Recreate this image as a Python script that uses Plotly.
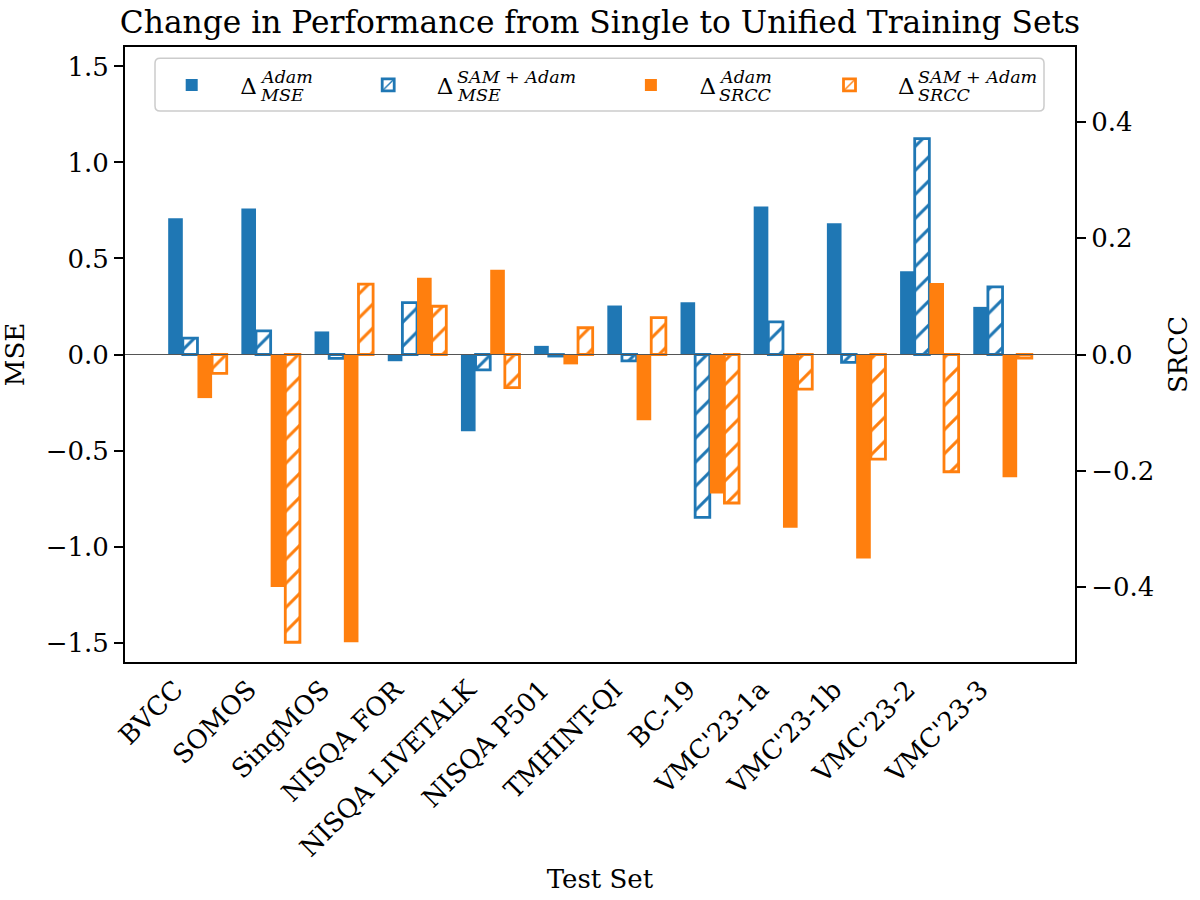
import plotly.graph_objects as go

categories = ["BVCC", "SOMOS", "SingMOS", "NISQA FOR", "NISQA LIVETALK", "NISQA P501",
              "TMHINT-QI", "BC-19", "VMC'23-1a", "VMC'23-1b", "VMC'23-2", "VMC'23-3"]
mse_adam = [0.71, 0.76, 0.12, -0.035, -0.40, 0.045, 0.255, 0.272, 0.77, 0.684, 0.434, 0.248]
mse_sam_adam = [0.085, 0.123, -0.02, 0.27, -0.08, -0.008, -0.033, -0.848, 0.17, -0.041, 1.124, 0.352]
srcc_adam = [-0.075, -0.40, -0.495, 0.132, 0.146, -0.017, -0.113, -0.239, -0.298, -0.351, 0.123, -0.211]
srcc_sam_adam = [-0.0325, -0.495, 0.121, 0.083, -0.057, 0.046, 0.0635, -0.2555, -0.0595, -0.18, -0.2017, -0.006]
mse_ticks = [-1.5, -1.0, -0.5, 0.0, 0.5, 1.0, 1.5]
srcc_ticks = [-0.4, -0.2, 0.0, 0.2, 0.4]
legend_sup = ["<i>Adam</i>", "<i>SAM</i> + <i>Adam</i>", "<i>Adam</i>", "<i>SAM</i> + <i>Adam</i>"]
legend_sub = ["<i>MSE</i>", "<i>MSE</i>", "<i>SRCC</i>", "<i>SRCC</i>"]

BLUE = "#1f77b4"
ORANGE = "#ff7f0e"
FONT = "DejaVu Serif"
W, H = 1200, 900
L, R, T, B = 125, 125, 47, 238
PW, PH = W - L - R, H - T - B

def px(xp):
    return (xp - L) / PW

def py(yp):
    return (H - B - yp) / PH

xs = list(range(len(categories)))
bw = 0.2

fig = go.Figure()
series = [
    (mse_adam, BLUE, False, "y", 0.0),
    (mse_sam_adam, BLUE, True, "y", 1.0),
    (srcc_adam, ORANGE, False, "y2", 2.0),
    (srcc_sam_adam, ORANGE, True, "y2", 3.0),
]
for k, (vals, col, hatched, yax, slot) in enumerate(series):
    if hatched:
        marker = dict(color="white", line=dict(color=col, width=2.8),
                      pattern=dict(shape="/", fgcolor=col, bgcolor="white", size=17,
                                   solidity=0.18, fillmode="replace"))
    else:
        marker = dict(color=col, line=dict(width=0))
    fig.add_trace(go.Bar(x=xs, y=vals, width=bw, offset=slot * bw - bw / 2, yaxis=yax,
                         marker=marker, name="Δ", showlegend=True,
                         legend="legend" if k == 0 else f"legend{k + 1}"))

patch_centers = [191.7, 388.2, 650.9, 849.5]
delta_x = [240, 436.7, 699.3, 898.3]
legend_cfg = {}
for k, c in enumerate(patch_centers):
    key = "legend" if k == 0 else f"legend{k + 1}"
    legend_cfg[key] = dict(x=px(c - 48.5), xanchor="left", y=py(85), yanchor="middle",
                           orientation="h", itemwidth=87, bgcolor="rgba(0,0,0,0)",
                           borderwidth=0, font=dict(family=FONT, size=23, color="black"))

annotations = []
for k, dx in enumerate(delta_x):
    annotations.append(dict(x=px(dx + 18), y=py(77), xref="paper", yref="paper",
                            text=legend_sup[k], showarrow=False, xanchor="left", yanchor="middle",
                            font=dict(family=FONT, size=17.5, color="black")))
    annotations.append(dict(x=px(dx + 18), y=py(94.7), xref="paper", yref="paper",
                            text=legend_sub[k], showarrow=False, xanchor="left", yanchor="middle",
                            font=dict(family=FONT, size=17.5, color="black")))

# rounded legend frame
x0, x1 = px(155), px(1044)
y0, y1 = py(111), py(58.3)
rx, ry = 5 / PW, 5 / PH
path = (f"M{x0 + rx},{y1} L{x1 - rx},{y1} Q{x1},{y1} {x1},{y1 - ry} L{x1},{y0 + ry} "
        f"Q{x1},{y0} {x1 - rx},{y0} L{x0 + rx},{y0} Q{x0},{y0} {x0},{y0 + ry} "
        f"L{x0},{y1 - ry} Q{x0},{y1} {x0 + rx},{y1} Z")
shapes = [
    dict(type="line", xref="paper", yref="y", x0=0, x1=1, y0=0, y1=0,
         line=dict(color="#555555", width=1), layer="above"),
    dict(type="path", xref="paper", yref="paper", path=path,
         fillcolor="rgba(255,255,255,0.8)", line=dict(color="#cccccc", width=1.5), layer="above"),
]

axis_font = dict(family=FONT, size=26, color="black")
fig.update_layout(
    width=W, height=H,
    margin=dict(l=L, r=R, t=T, b=B, autoexpand=False),
    paper_bgcolor="white", plot_bgcolor="white",
    barmode="overlay",
    showlegend=True,
    font=dict(family=FONT, size=26, color="black"),
    title=dict(text="Change in Performance from Single to Unified Training Sets",
               x=0.5, xanchor="center", xref="paper", y=1 - 22 / H, yanchor="middle",
               yref="container", font=dict(family=FONT, size=31.3, color="black")),
    xaxis=dict(range=[-0.69, 12.29], tickmode="array", tickvals=xs, ticktext=categories,
               tickangle=-45, ticks="", showgrid=False, zeroline=False, showline=True,
               linecolor="black", linewidth=2, mirror=True, tickfont=axis_font,
               title=dict(text="Test Set", font=axis_font, standoff=8)),
    yaxis=dict(range=[-1.601, 1.601], tickmode="array", tickvals=mse_ticks, tickformat=".1f",
               ticks="outside", ticklen=9, tickwidth=2, tickcolor="black", showgrid=False,
               zeroline=False, showline=True, linecolor="black", linewidth=2,
               tickfont=axis_font, title=dict(text="MSE", font=axis_font, standoff=14)),
    yaxis2=dict(range=[-0.529, 0.529], overlaying="y", side="right", tickmode="array",
                tickvals=srcc_ticks, tickformat=".1f", ticks="outside", ticklen=9, tickwidth=2,
                tickcolor="black", showgrid=False, zeroline=False, showline=True,
                linecolor="black", linewidth=2, tickfont=axis_font,
                title=dict(text="SRCC", font=axis_font, standoff=15)),
    shapes=shapes,
    annotations=annotations,
    **legend_cfg,
)

fig.write_html("out.html", config={"displayModeBar": False},
               post_script="document.body.style.margin='0px';")
